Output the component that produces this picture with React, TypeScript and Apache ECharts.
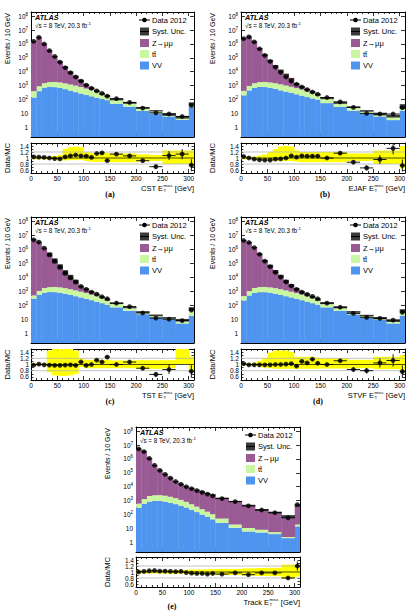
import React, { useEffect, useRef } from "react";
import * as echarts from "echarts";

// ---------------- data ----------------
const binEdges = [0, 10, 20, 30, 40, 50, 60, 70, 80, 90, 100, 110, 120, 130, 140, 150, 175, 200, 225, 250, 275, 300, 310];
const xTickLabels = [0, 50, 100, 150, 200, 250, 300];
const ratioTickLabels = [0.6, 0.8, 1, 1.2, 1.4];
const legendLabels = ["Data 2012", "Syst. Unc.", "Z\u2192\u03bc\u03bc", "tt\u0304", "VV"];
const panelNames = ["CST", "EJAF", "TST", "STVF", "Track"];
const panelTags = ["(a)", "(b)", "(c)", "(d)", "(e)"];

// (a) CST
const vvA = [140, 400, 720, 800, 780, 680, 560, 440, 340, 270, 210, 170, 135, 110, 90, 50, 30, 15, 10, 6, 3.5, 32];
const ttA = [260, 500, 780, 1000, 1070, 1020, 890, 760, 660, 530, 400, 300, 200, 120, 80, 45, 24, 9, 4.5, 2, 1.5, 15];
const zA = [1.49e6, 2.9e6, 9.8e5, 3.28e5, 1.27e5, 4.9e4, 1.75e4, 6.7e3, 2.8e3, 1.16e3, 430, 170, 60, 20, 8, 7, 4, 2, 1, 0.3, 0.3, 3];
const dataA = [1.55e6, 3.0e6, 1.0e6, 3.3e5, 1.26e5, 4.9e4, 1.95e4, 8.5e3, 4.2e3, 2.1e3, 1.1e3, 650, 420, 280, 175, 115, 62, 24, 11, 9, 6, 38];
const ratioA = [1.04, 1.03, 1.02, 1.0, 0.98, 0.97, 1.04, 1.07, 1.1, 1.07, 1.06, 1.02, 1.15, 1.17, 0.91, 1.13, 1.07, 0.91, 0.71, 1.08, 1.13, 0.76];
const errA = [0.004, 0.004, 0.005, 0.006, 0.008, 0.01, 0.012, 0.015, 0.018, 0.02, 0.025, 0.03, 0.035, 0.04, 0.05, 0.04, 0.05, 0.07, 0.08, 0.15, 0.17, 0.2];
const bandLoA = [0.96, 0.96, 0.96, 0.95, 0.93, 0.92, 0.92, 0.93, 0.93, 0.94, 0.9, 0.87, 0.87, 0.87, 0.87, 0.86, 0.86, 0.88, 0.9, 0.8, 0.8, 0.78];
const bandHiA = [1.04, 1.04, 1.04, 1.05, 1.07, 1.1, 1.3, 1.36, 1.38, 1.36, 1.2, 1.17, 1.17, 1.17, 1.17, 1.15, 1.15, 1.12, 1.1, 1.25, 1.25, 1.25];

// (b) EJAF
const vvB = [200, 450, 700, 800, 790, 700, 580, 460, 370, 300, 240, 190, 150, 120, 100, 55, 30, 16, 10, 6, 3.3, 16];
const ttB = [220, 500, 800, 1000, 1050, 1000, 900, 780, 650, 520, 420, 330, 240, 160, 100, 60, 22, 10, 4, 2.5, 2.5, 14];
const zB = [2.3e6, 3.2e6, 1.45e6, 4.7e5, 1.6e5, 5.9e4, 2.2e4, 9.2e3, 4.2e3, 1.8e3, 560, 260, 110, 50, 20, 8, 5, 2, 1, 0.5, 0.5, 3];
const dataB = [2.4e6, 3.2e6, 1.4e6, 4.4e5, 1.5e5, 5.5e4, 2.1e4, 9e3, 4.2e3, 2.1e3, 1.25e3, 800, 520, 350, 240, 140, 68, 27, 10, 9, 9, 26];
const ratioB = [1.05, 1.0, 0.96, 0.94, 0.93, 0.93, 0.96, 0.97, 1.0, 1.07, 1.03, 1.07, 1.06, 1.06, 1.06, 1.0, 1.16, 0.86, 0.67, 0.95, 1.32, 0.75];
const errB = [0.004, 0.004, 0.005, 0.006, 0.008, 0.01, 0.012, 0.015, 0.018, 0.02, 0.025, 0.03, 0.035, 0.04, 0.05, 0.04, 0.05, 0.07, 0.09, 0.15, 0.2, 0.2];
const bandLoB = [0.96, 0.96, 0.95, 0.94, 0.92, 0.9, 0.9, 0.9, 0.9, 0.9, 0.88, 0.86, 0.86, 0.86, 0.86, 0.86, 0.86, 0.9, 0.9, 0.8, 0.8, 0.65];
const bandHiB = [1.04, 1.04, 1.05, 1.08, 1.12, 1.2, 1.3, 1.38, 1.4, 1.38, 1.25, 1.2, 1.2, 1.2, 1.2, 1.2, 1.2, 1.15, 1.15, 1.25, 1.25, 1.4];

// (c) TST
const vvC = [290, 550, 780, 870, 860, 780, 660, 540, 440, 360, 290, 230, 180, 140, 110, 70, 40, 23, 14, 10, 5, 18];
const ttC = [210, 500, 900, 1100, 1150, 1100, 1000, 850, 700, 560, 450, 350, 260, 180, 120, 60, 25, 8, 4, 2, 1.6, 37];
const zC = [4.8e6, 3.2e6, 1.2e6, 4.0e5, 1.45e5, 5.4e4, 1.95e4, 8.5e3, 3.4e3, 1.1e3, 650, 300, 120, 45, 15, 8, 5, 2, 1, 0.5, 0.4, 3];
const dataC = [4.7e6, 3.2e6, 1.2e6, 3.9e5, 1.4e5, 5.3e4, 1.95e4, 9e3, 4.6e3, 2.2e3, 1.35e3, 870, 620, 400, 290, 140, 80, 28, 12, 10, 8, 45];
const ratioC = [0.98, 1.01, 0.99, 0.98, 0.97, 0.97, 0.98, 0.99, 0.97, 1.08, 0.97, 1.0, 1.14, 1.08, 1.24, 1.0, 1.08, 0.88, 0.68, 0.84, null, 0.78];
const errC = [0.004, 0.004, 0.005, 0.006, 0.008, 0.01, 0.012, 0.015, 0.018, 0.02, 0.025, 0.03, 0.035, 0.04, 0.05, 0.04, 0.05, 0.07, 0.08, 0.15, 0.2, 0.2];
const bandLoC = [0.97, 0.97, 0.97, 0.75, 0.65, 0.63, 0.63, 0.65, 0.7, 0.92, 0.88, 0.88, 0.88, 0.88, 0.88, 0.88, 0.88, 0.86, 0.86, 0.88, 1.0, 0.75];
const bandHiC = [1.03, 1.03, 1.03, 1.45, 1.5, 1.5, 1.5, 1.5, 1.45, 1.2, 1.15, 1.15, 1.15, 1.15, 1.15, 1.13, 1.13, 1.14, 1.14, 1.14, 1.5, 1.25];

// (d) STVF
const vvD = [220, 500, 760, 860, 860, 780, 660, 540, 440, 360, 290, 230, 180, 140, 110, 70, 40, 22, 13, 9, 5, 18];
const ttD = [230, 520, 920, 1100, 1150, 1100, 1000, 850, 700, 560, 450, 350, 260, 180, 120, 60, 24, 9, 4, 2, 2, 20];
const zD = [4.1e6, 3.0e6, 1.3e6, 4.4e5, 1.4e5, 5.5e4, 2.1e4, 9e3, 3.4e3, 1.4e3, 600, 210, 120, 50, 15, 8, 5, 2, 1, 0.5, 0.5, 2];
const dataD = [4.2e6, 3.0e6, 1.3e6, 4.4e5, 1.4e5, 5.6e4, 2.2e4, 1e4, 4.6e3, 2.35e3, 1.35e3, 870, 590, 425, 290, 140, 72, 26, 13.5, 11.5, 8.7, 31];
const ratioD = [1.03, 0.99, 0.99, 0.99, 0.99, 0.99, 1.0, 1.0, 1.01, 1.03, 0.95, 1.1, 1.05, 1.17, 1.04, 1.0, 1.12, 0.84, 0.8, 1.05, 1.13, 0.77];
const errD = [0.004, 0.004, 0.005, 0.006, 0.008, 0.01, 0.012, 0.015, 0.018, 0.02, 0.025, 0.03, 0.035, 0.04, 0.05, 0.04, 0.05, 0.07, 0.09, 0.15, 0.2, 0.2];
const bandLoD = [0.97, 0.97, 0.96, 0.93, 0.9, 0.88, 0.86, 0.86, 0.86, 0.86, 0.86, 0.86, 0.86, 0.86, 0.86, 0.87, 0.87, 0.88, 0.88, 0.85, 0.85, 0.8];
const bandHiD = [1.03, 1.03, 1.06, 1.12, 1.2, 1.38, 1.45, 1.45, 1.45, 1.4, 1.25, 1.25, 1.25, 1.25, 1.22, 1.2, 1.2, 1.15, 1.15, 1.25, 1.25, 1.3];

// (e) Track
const vvE = [310, 600, 850, 950, 950, 850, 700, 560, 430, 320, 220, 150, 100, 70, 45, 25, 11, 6, 5, 3.9, 2, 14];
const ttE = [300, 700, 1300, 1500, 1550, 1400, 1200, 950, 700, 500, 330, 220, 140, 90, 60, 26, 8, 4.7, 3, 1.5, 0.4, 5];
const zE = [5.3e6, 3.3e6, 1.05e6, 3.3e5, 1.4e5, 7.5e4, 4.0e4, 2.2e4, 1.4e4, 9.5e3, 7.3e3, 5.4e3, 4.1e3, 3.1e3, 2.5e3, 1.45e3, 850, 440, 210, 135, 70, 400];
const dataE = [5.3e6, 3.4e6, 1.1e6, 3.5e5, 1.5e5, 7.8e4, 4.2e4, 2.4e4, 1.5e4, 1.0e4, 7.2e3, 5.2e3, 3.9e3, 2.95e3, 2.2e3, 1.4e3, 850, 415, 210, 135, 58, 510];
const ratioE = [1.0, 1.02, 1.04, 1.05, 1.03, 1.03, 1.02, 1.01, 1.02, 0.98, 0.96, 0.95, 0.95, 0.93, 0.95, 0.93, 0.97, 0.91, 0.97, 0.97, 0.8, 1.2];
const errE = [0.003, 0.003, 0.004, 0.005, 0.006, 0.006, 0.007, 0.008, 0.009, 0.01, 0.01, 0.012, 0.014, 0.016, 0.018, 0.02, 0.025, 0.03, 0.04, 0.04, 0.05, 0.15];
const bandLoE = [0.95, 0.95, 0.95, 0.95, 0.95, 0.95, 0.94, 0.94, 0.94, 0.93, 0.92, 0.92, 0.92, 0.91, 0.91, 0.9, 0.9, 0.88, 0.87, 0.86, 0.78, 0.85];
const bandHiE = [1.05, 1.05, 1.05, 1.05, 1.05, 1.05, 1.06, 1.06, 1.06, 1.07, 1.08, 1.08, 1.08, 1.09, 1.09, 1.1, 1.1, 1.12, 1.13, 1.14, 1.25, 1.18];

// ---------------- layout & style ----------------
const Y_MIN = 0.2;
const Y_MAX = 2e8;
const X_MAX = 310;
const R_MIN = 0.5;
const R_MAX = 1.5;
const FONT = '"Liberation Sans", Arial, Helvetica, sans-serif';
const C_Z = "#9a5a94";
const C_TT = "#c9f6a0";
const C_VV = "#4f95ef";
const C_SYS = "#3a3a3a";
const C_BAND = "#ffff00";

const layouts = [
  { left: 31, right: 194, mainTop: 12, mainBot: 137, ratTop: 143, ratBot: 173, tagX: 110, ytX: 7, titleDy: 15, tagDy: 21 },
  { left: 241, right: 405, mainTop: 12, mainBot: 137, ratTop: 143, ratBot: 173, tagX: 325, ytX: 212, titleDy: 15, tagDy: 21 },
  { left: 31, right: 194, mainTop: 217, mainBot: 343, ratTop: 349, ratBot: 380, tagX: 110, ytX: 7, titleDy: 15, tagDy: 21 },
  { left: 241, right: 405, mainTop: 217, mainBot: 343, ratTop: 349, ratBot: 380, tagX: 318, ytX: 212, titleDy: 15, tagDy: 21 },
  { left: 136, right: 300, mainTop: 427, mainBot: 552, ratTop: 557, ratBot: 587, tagX: 172, ytX: 107, titleDy: 15, tagDy: 19 },
];

const panelData = [
  { vv: vvA, tt: ttA, z: zA, data: dataA, ratio: ratioA, err: errA, lo: bandLoA, hi: bandHiA },
  { vv: vvB, tt: ttB, z: zB, data: dataB, ratio: ratioB, err: errB, lo: bandLoB, hi: bandHiB },
  { vv: vvC, tt: ttC, z: zC, data: dataC, ratio: ratioC, err: errC, lo: bandLoC, hi: bandHiC },
  { vv: vvD, tt: ttD, z: zD, data: dataD, ratio: ratioD, err: errD, lo: bandLoD, hi: bandHiD },
  { vv: vvE, tt: ttE, z: zE, data: dataE, ratio: ratioE, err: errE, lo: bandLoE, hi: bandHiE },
];

const tickLine = { color: "#000", width: 0.8 };
const axisLine = { show: true, onZero: false, lineStyle: { color: "#000", width: 1 } };

function xAxisDef(gridIndex: number, position: string, showLabels: boolean) {
  return {
    type: "value",
    gridIndex,
    position,
    min: 0,
    max: X_MAX,
    interval: 50,
    axisLine,
    axisTick: { show: true, inside: true, length: 4, lineStyle: tickLine },
    minorTick: { show: true, splitNumber: 5, length: 2, lineStyle: tickLine },
    splitLine: { show: false },
    axisLabel: showLabels
      ? {
          show: true,
          fontSize: 6.5,
          fontFamily: FONT,
          color: "#000",
          margin: 2,
          formatter: (v: number) => (xTickLabels.indexOf(Math.round(v)) >= 0 && Math.abs(v - Math.round(v)) < 1e-6 ? String(Math.round(v)) : ""),
        }
      : { show: false },
  };
}

function logFormatter(v: number) {
  const l = Math.log10(v);
  const e = Math.round(l);
  if (Math.abs(l - e) > 1e-6) return "";
  if (e === 0) return "{b|1}";
  if (e === 1) return "{b|10}";
  return "{b|10}{s|" + e + "}";
}

function yLogDef(gridIndex: number, position: string, showLabels: boolean) {
  return {
    type: "log",
    logBase: 10,
    gridIndex,
    position,
    min: Y_MIN,
    max: Y_MAX,
    splitNumber: 9,
    axisLine,
    axisTick: { show: true, inside: true, length: 4, lineStyle: tickLine },
    splitLine: { show: false },
    axisLabel: showLabels
      ? {
          show: true,
          color: "#000",
          margin: 3,
          fontFamily: FONT,
          formatter: logFormatter,
          rich: {
            b: { fontSize: 6.5, lineHeight: 9, fontFamily: FONT, color: "#000" },
            s: { fontSize: 4.5, lineHeight: 5, verticalAlign: "top", fontFamily: FONT, color: "#000" },
          },
        }
      : { show: false },
  };
}

function yRatioDef(gridIndex: number, position: string, showLabels: boolean) {
  return {
    type: "value",
    gridIndex,
    position,
    min: R_MIN,
    max: R_MAX,
    interval: 0.1,
    axisLine,
    axisTick: { show: true, inside: true, length: 2.5, lineStyle: tickLine },
    splitLine: { show: false },
    axisLabel: showLabels
      ? {
          show: true,
          fontSize: 6.5,
          fontFamily: FONT,
          color: "#000",
          margin: 2,
          formatter: (v: number) => {
            const r = Math.round(v * 10) / 10;
            return ratioTickLabels.some((t) => Math.abs(t - r) < 1e-6) && Math.abs(v - r) < 1e-6 ? String(r) : "";
          },
        }
      : { show: false },
  };
}

const rectItem = (fill: string) => (params: any, api: any) => {
  const a = api.coord([api.value(0), api.value(3)]);
  const b = api.coord([api.value(1), api.value(2)]);
  return {
    type: "rect",
    shape: { x: a[0], y: a[1], width: b[0] - a[0] + 0.35, height: b[1] - a[1] },
    style: { fill },
  };
};

const errItem = (params: any, api: any) => {
  const x0 = api.value(0);
  const x1 = api.value(1);
  const y = api.value(2);
  const xc = (x0 + x1) / 2;
  const pL = api.coord([x0, y]);
  const pR = api.coord([x1, y]);
  const pB = api.coord([xc, api.value(3)]);
  const pT = api.coord([xc, api.value(4)]);
  return {
    type: "group",
    children: [
      { type: "line", shape: { x1: pL[0], y1: pL[1], x2: pR[0], y2: pR[1] }, style: { stroke: "#000", lineWidth: 0.9 } },
      { type: "line", shape: { x1: pT[0], y1: pT[1], x2: pB[0], y2: pB[1] }, style: { stroke: "#000", lineWidth: 0.9 } },
    ],
  };
};

const hLineItem = (stroke: string, width: number) => (params: any, api: any) => {
  const a = api.coord([api.value(0), api.value(2)]);
  const b = api.coord([api.value(1), api.value(2)]);
  return { type: "line", shape: { x1: a[0], y1: a[1], x2: b[0], y2: b[1] }, style: { stroke, lineWidth: width } };
};

function text(x: number, y: number, str: string, font: string, align = "left", extra: any = {}) {
  return {
    type: "text",
    x,
    y,
    silent: true,
    z: 100,
    ...extra,
    style: {
      text: str,
      font,
      fill: "#000",
      align,
      textAlign: align,
      verticalAlign: "middle",
      textVerticalAlign: "middle",
      ...(extra.style || {}),
    },
  };
}

function buildOption() {
  const grids: any[] = [];
  const xAxes: any[] = [];
  const yAxes: any[] = [];
  const series: any[] = [];
  const elements: any[] = [];
  const nb = binEdges.length - 1;

  layouts.forEach((L, i) => {
    const P = panelData[i];
    const w = L.right - L.left;
    grids.push({ left: L.left, top: L.mainTop, width: w, height: L.mainBot - L.mainTop });
    grids.push({ left: L.left, top: L.ratTop, width: w, height: L.ratBot - L.ratTop });
    const gm = 2 * i;
    const gr = 2 * i + 1;
    xAxes.push(xAxisDef(gm, "bottom", false), xAxisDef(gm, "top", false), xAxisDef(gr, "bottom", true), xAxisDef(gr, "top", false));
    yAxes.push(yLogDef(gm, "left", true), yLogDef(gm, "right", false), yRatioDef(gr, "left", true), yRatioDef(gr, "right", false));
    const xm = 4 * i;
    const xr = 4 * i + 2;

    const vvR: number[][] = [];
    const ttR: number[][] = [];
    const zR: number[][] = [];
    const sysR: number[][] = [];
    const dPts: number[][] = [];
    const dBars: number[][] = [];
    const bandR: number[][] = [];
    const rPts: number[][] = [];
    const rBars: number[][] = [];
    for (let k = 0; k < nb; k++) {
      const x0 = binEdges[k];
      const x1 = binEdges[k + 1];
      const xc = (x0 + x1) / 2;
      const s1 = P.vv[k];
      const s2 = s1 + P.tt[k];
      const s3 = s2 + P.z[k];
      vvR.push([x0, x1, Y_MIN, s1]);
      ttR.push([x0, x1, s1, s2]);
      zR.push([x0, x1, s2, s3]);
      sysR.push([x0, x1, s3 * P.lo[k], s3 * P.hi[k]]);
      dPts.push([xc, P.data[k]]);
      dBars.push([x0, x1, P.data[k], P.data[k], P.data[k]]);
      bandR.push([x0, x1, P.lo[k], P.hi[k]]);
      const r = P.ratio[k];
      if (r !== null && r !== undefined) {
        rPts.push([xc, r]);
        rBars.push([x0, x1, r, r - P.err[k], r + P.err[k]]);
      }
    }
    const main = { xAxisIndex: xm, yAxisIndex: xm, clip: true, silent: true };
    const rat = { xAxisIndex: xr, yAxisIndex: xr, clip: true, silent: true };
    const enc4 = { x: [0, 1], y: [2, 3] };
    series.push(
      { type: "custom", ...main, renderItem: rectItem(C_VV), data: vvR, encode: enc4 },
      { type: "custom", ...main, renderItem: rectItem(C_TT), data: ttR, encode: enc4 },
      { type: "custom", ...main, renderItem: rectItem(C_Z), data: zR, encode: enc4 },
      { type: "custom", ...main, renderItem: rectItem(C_SYS), data: sysR, encode: enc4 },
      { type: "custom", ...main, renderItem: errItem, data: dBars, encode: { x: [0, 1], y: [2, 3, 4] } },
      { type: "scatter", ...main, data: dPts, symbol: "circle", symbolSize: 4.8, itemStyle: { color: "#000" } },
      { type: "custom", ...rat, renderItem: rectItem(C_BAND), data: bandR, encode: enc4 },
      { type: "custom", ...rat, renderItem: hLineItem("#b4b4b4", 0.8), data: [[0, X_MAX, 0.8], [0, X_MAX, 1.2]], encode: { x: [0, 1], y: 2 } },
      { type: "custom", ...rat, renderItem: hLineItem("#000", 0.7), data: [[0, X_MAX, 1]], encode: { x: [0, 1], y: 2 } },
      { type: "custom", ...rat, renderItem: errItem, data: rBars, encode: { x: [0, 1], y: [2, 3, 4] } },
      { type: "scatter", ...rat, data: rPts, symbol: "circle", symbolSize: 4.8, itemStyle: { color: "#000" } }
    );

    // ATLAS label
    const ax = L.left + 4;
    elements.push(text(ax, L.mainTop + 5.5, "ATLAS", `italic bold 7.2px ${FONT}`));
    elements.push(
      text(ax, L.mainTop + 13.5, "{n|\u221as = 8 TeV, 20.3 fb}{s|-1}", `6.3px ${FONT}`, "left", {
        style: {
          rich: {
            n: { fontSize: 6.3, lineHeight: 8, fontFamily: FONT, fill: "#000", color: "#000" },
            s: { fontSize: 4.3, lineHeight: 5, verticalAlign: "top", fontFamily: FONT, fill: "#000", color: "#000" },
          },
        },
      })
    );

    // legend
    const R = L.right;
    const rows = [8, 19.5, 31, 42, 53.5].map((d) => L.mainTop + d);
    const swX = R - 54;
    elements.push({ type: "line", silent: true, z: 100, shape: { x1: R - 55, y1: rows[0], x2: R - 44, y2: rows[0] }, style: { stroke: "#000", lineWidth: 1 } });
    elements.push({ type: "circle", silent: true, z: 101, shape: { cx: R - 49.5, cy: rows[0], r: 2.3 }, style: { fill: "#000" } });
    elements.push({ type: "rect", silent: true, z: 100, shape: { x: swX, y: rows[1] - 4, width: 9, height: 8 }, style: { fill: C_SYS } });
    elements.push({ type: "line", silent: true, z: 101, shape: { x1: swX, y1: rows[1], x2: swX + 9, y2: rows[1] }, style: { stroke: "#000", lineWidth: 1 } });
    elements.push({ type: "rect", silent: true, z: 100, shape: { x: swX, y: rows[2] - 4, width: 9, height: 8 }, style: { fill: C_Z } });
    elements.push({ type: "rect", silent: true, z: 100, shape: { x: swX, y: rows[3] - 4, width: 9, height: 8 }, style: { fill: C_TT } });
    elements.push({ type: "rect", silent: true, z: 100, shape: { x: swX, y: rows[4] - 4, width: 9, height: 8 }, style: { fill: C_VV } });
    legendLabels.forEach((lab, j) => {
      elements.push(text(R - 42, rows[j], lab, `7.5px ${FONT}`));
    });

    // y titles
    elements.push(text(L.ytX, L.mainTop + 1, "Events / 10 GeV", `7px ${FONT}`, "right", { rotation: Math.PI / 2 }));
    elements.push(text(L.ytX, (L.ratTop + L.ratBot) / 2, "Data/MC", `7.6px ${FONT}`, "center", { rotation: Math.PI / 2 }));

    // x title: "<name> E_T^miss [GeV]"
    const ty = L.ratBot + L.titleDy;
    elements.push(text(R, ty, "[GeV]", `7.5px ${FONT}`, "right"));
    elements.push(text(R - 21.5, ty - 2.4, "miss", `4.4px ${FONT}`, "right"));
    elements.push(text(R - 30.6, ty + 2.2, "T", `4.4px ${FONT}`, "left"));
    elements.push(text(R - 31, ty, panelNames[i] + " E", `7.5px ${FONT}`, "right"));

    // panel tag
    elements.push(text(L.tagX, L.ratBot + L.tagDy, panelTags[i], `bold 8px "Liberation Serif", "Times New Roman", serif`, "center"));
  });

  return {
    animation: false,
    backgroundColor: "#ffffff",
    textStyle: { fontFamily: FONT },
    grid: grids,
    xAxis: xAxes,
    yAxis: yAxes,
    series,
    graphic: { elements },
  };
}

export default function App() {
  const ref = useRef<HTMLDivElement>(null);
  useEffect(() => {
    if (!ref.current) return;
    const chart = echarts.init(ref.current, undefined, { renderer: "svg" });
    chart.setOption(buildOption() as any);
    return () => {
      chart.dispose();
    };
  }, []);
  return <div ref={ref} style={{ position: "absolute", left: 0, top: 0, width: 409, height: 612, background: "#fff" }} />;
}
